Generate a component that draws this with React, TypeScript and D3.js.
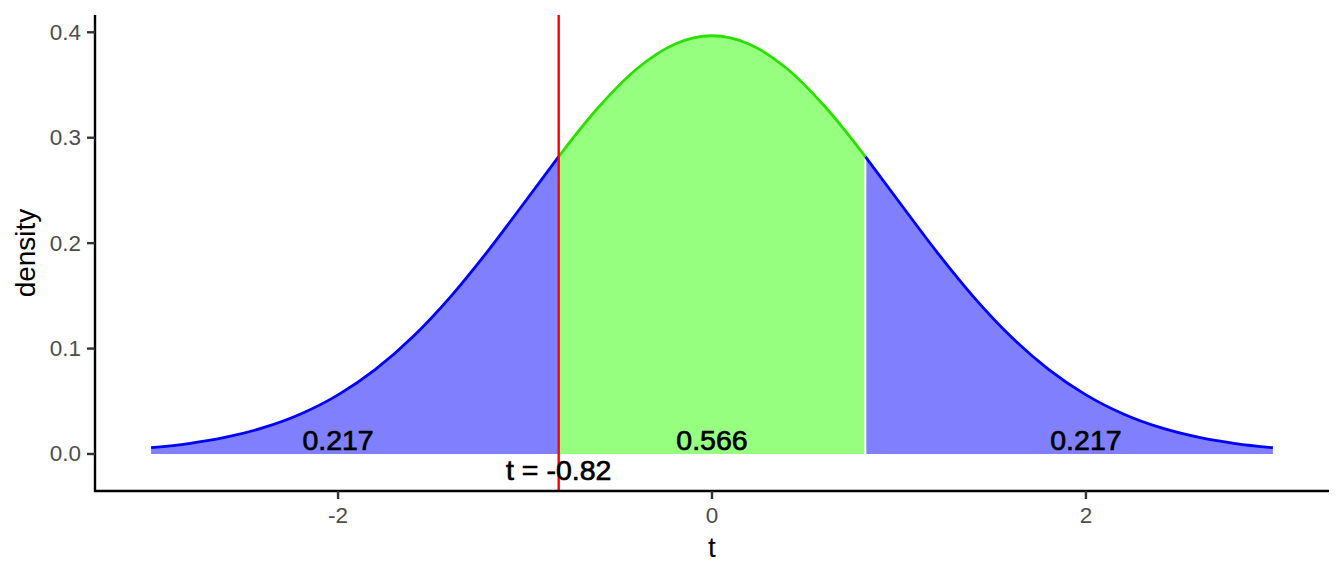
import React from "react";
import * as d3 from "d3";

// density curve (t from -3 to 3, step 0.2) plus the cut points
const tValues = [-3.0, -2.8, -2.6, -2.4, -2.2, -2.0, -1.8, -1.6, -1.4, -1.2, -1.0, -0.82, -0.8, -0.6, -0.4, -0.2, 0.0, 0.2, 0.4, 0.6, 0.8, 0.82, 1.0, 1.2, 1.4, 1.6, 1.8, 2.0, 2.2, 2.4, 2.6, 2.8, 3.0];
const densityValues = [0.00596, 0.00989, 0.01593, 0.02496, 0.03798, 0.05609, 0.08027, 0.11119, 0.14883, 0.19224, 0.23928, 0.28204, 0.28668, 0.33027, 0.36562, 0.3887, 0.39672, 0.3887, 0.36562, 0.33027, 0.28668, 0.28204, 0.23928, 0.19224, 0.14883, 0.11119, 0.08027, 0.05609, 0.03798, 0.02496, 0.01593, 0.00989, 0.00596];

const tCrit = -0.82;
const tCritUpper = 0.82;
const areaLabelX = [-2, 0, 2];
const areaLabelText = ["0.217", "0.566", "0.217"];
const areaLabelY = 0.0136;
const critLabel = "t = -0.82";
const critLabelY = -0.0155;

const xTicks = [-2, 0, 2];
const yTicks = [0.0, 0.1, 0.2, 0.3, 0.4];

const W = 1344;
const H = 576;
const panel = { left: 95, right: 1329, top: 15, bottom: 491 };
const FONT = "'Liberation Sans', Arial, Helvetica, sans-serif";

export default function App() {
  const x = d3.scaleLinear().domain([-3.3, 3.3]).range([panel.left, panel.right]);
  const y = d3.scaleLinear().domain([-0.0351, 0.4164]).range([panel.bottom, panel.top]);

  const pts = tValues.map((t, i) => ({ t, d: densityValues[i] }));
  const area = d3
    .area<{ t: number; d: number }>()
    .x((p) => x(p.t))
    .y0(y(0))
    .y1((p) => y(p.d))
    .curve(d3.curveMonotoneX);
  const line = d3
    .line<{ t: number; d: number }>()
    .x((p) => x(p.t))
    .y((p) => y(p.d))
    .curve(d3.curveMonotoneX);

  const midPts = pts.filter((p) => p.t >= tCrit && p.t <= tCritUpper);
  const upperD = densityValues[tValues.indexOf(tCritUpper)];

  return (
    <svg
      width={W}
      height={H}
      style={{ position: "absolute", left: 0, top: 0, background: "#fff" }}
      fontFamily={FONT}
    >
      <defs>
        <clipPath id="clipPanel">
          <rect x={panel.left} y={panel.top} width={panel.right - panel.left} height={panel.bottom - panel.top} />
        </clipPath>
      </defs>
      <g clipPath="url(#clipPanel)">
        <path d={area(pts) || ""} fill="#8080FF" />
        <path d={area(midPts) || ""} fill="#97FF80" />
        <line x1={x(tCritUpper)} x2={x(tCritUpper)} y1={y(0)} y2={y(upperD)} stroke="#ffffff" strokeWidth={2} />
        <path d={line(pts.filter((p) => p.t <= tCrit)) || ""} fill="none" stroke="#0000FF" strokeWidth={2.8} />
        <path d={line(pts.filter((p) => p.t >= tCritUpper)) || ""} fill="none" stroke="#0000FF" strokeWidth={2.8} />
        <path d={line(midPts) || ""} fill="none" stroke="#2BE000" strokeWidth={2.8} />
        {areaLabelX.map((v, i) => (
          <text
            key={i}
            x={x(v)}
            y={y(areaLabelY)}
            textAnchor="middle"
            dominantBaseline="central"
            fontSize={28.5}
            fill="#000"
            stroke="#000"
            strokeWidth={0.7}
          >
            {areaLabelText[i]}
          </text>
        ))}
        <line x1={x(tCrit)} x2={x(tCrit)} y1={panel.top} y2={panel.bottom} stroke="#FF0000" strokeWidth={2.4} />
        <text
          x={x(tCrit)}
          y={y(critLabelY)}
          textAnchor="middle"
          dominantBaseline="central"
          fontSize={28.5}
          fill="#000"
          stroke="#000"
          strokeWidth={0.7}
        >
          {critLabel}
        </text>
      </g>

      <line x1={panel.left} x2={panel.left} y1={panel.top} y2={panel.bottom + 1} stroke="#000" strokeWidth={2.4} />
      <line x1={panel.left - 1} x2={panel.right} y1={panel.bottom} y2={panel.bottom} stroke="#000" strokeWidth={2.4} />
      {yTicks.map((v) => (
        <g key={"y" + v}>
          <line x1={panel.left - 8} x2={panel.left} y1={y(v)} y2={y(v)} stroke="#333" strokeWidth={2.4} />
          <text
            x={panel.left - 14}
            y={y(v)}
            textAnchor="end"
            dominantBaseline="central"
            fontSize={22.5}
            fill="#4D4D4D"
          >
            {v.toFixed(1)}
          </text>
        </g>
      ))}
      {xTicks.map((v) => (
        <g key={"x" + v}>
          <line x1={x(v)} x2={x(v)} y1={panel.bottom} y2={panel.bottom + 8} stroke="#333" strokeWidth={2.4} />
          <text
            x={x(v)}
            y={panel.bottom + 24}
            textAnchor="middle"
            dominantBaseline="central"
            fontSize={22.5}
            fill="#4D4D4D"
          >
            {String(v)}
          </text>
        </g>
      ))}
      <text x={(panel.left + panel.right) / 2} y={547} textAnchor="middle" dominantBaseline="central" fontSize={28} fill="#000">
        t
      </text>
      <text
        transform={`translate(25, ${(panel.top + panel.bottom) / 2}) rotate(-90)`}
        textAnchor="middle"
        dominantBaseline="central"
        fontSize={28}
        fill="#000"
      >
        density
      </text>
    </svg>
  );
}
